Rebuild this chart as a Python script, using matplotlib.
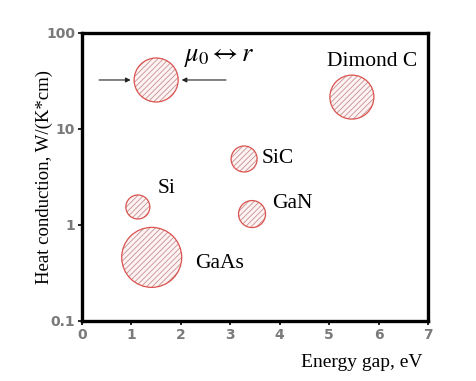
import matplotlib

matplotlib.use("Agg")

import matplotlib.pyplot as plt

# materials: energy gap (eV), heat conduction W/(K*cm), marker radius (px)
materials = ["Si", "GaAs", "SiC", "GaN", "Dimond C"]
energy_gap = [1.13, 1.41, 3.28, 3.44, 5.46]
heat_conduction = [1.54, 0.46, 4.87, 1.30, 21.5]
radius_px = [12, 30, 13, 13.5, 22]

# label anchor (x, y) in data units
label_x = [1.54, 2.29, 3.64, 3.84, 4.96]
label_y = [2.4, 0.40, 4.87, 1.66, 50.0]

# legend circle for mu_0 <-> r
legend_x, legend_y, legend_r = 1.50, 32.4, 22

xticks = [0, 1, 2, 3, 4, 5, 6, 7]
yticks = [0.1, 1, 10, 100]
ytick_labels = ["0.1", "1", "10", "100"]

SERIF = ["Liberation Serif", "DejaVu Serif"]

plt.rcParams["mathtext.fontset"] = "stix"
plt.rcParams["hatch.linewidth"] = 0.6

fig = plt.figure(figsize=(4.76, 3.81), dpi=100)
ax = fig.add_axes([82 / 476, 1 - 321 / 381, 346 / 476, 288 / 381])
ax.set_yscale("log")
ax.set_xlim(0, 7)
ax.set_ylim(0.1, 100)


def _size(r):
    return (2 * r * 0.72) ** 2


xs = energy_gap + [legend_x]
ys = heat_conduction + [legend_y]
sizes = [_size(r) for r in radius_px + [legend_r]]
ax.scatter(xs, ys, s=sizes, facecolor="#fdf3f3", edgecolor="#c89090", linewidth=0, hatch="//////", zorder=2)
ax.scatter(xs, ys, s=sizes, facecolor="none", edgecolor="#d9534f", linewidth=0.9, zorder=3)

for name, tx, ty in zip(materials, label_x, label_y):
    ax.text(tx, ty, name, fontfamily=SERIF, fontsize=15.5, va="center", ha="left")

ax.text(2.06, 58, r"$\mu_0 \leftrightarrow r$", fontsize=19, va="center", ha="left")
ax.annotate("", xy=(1.04, legend_y), xytext=(0.29, legend_y),
            arrowprops=dict(arrowstyle="-|>", lw=0.8, color="#222222", mutation_scale=7))
ax.annotate("", xy=(1.96, legend_y), xytext=(2.97, legend_y),
            arrowprops=dict(arrowstyle="-|>", lw=0.8, color="#222222", mutation_scale=7))

for spine in ax.spines.values():
    spine.set_linewidth(2.4)

ax.set_xticks(xticks)
ax.set_yticks(yticks)
ax.set_yticklabels(ytick_labels)
ax.minorticks_off()
ax.tick_params(axis="both", length=3, width=1.2, pad=2, labelsize=10, labelcolor="#7a7a7a")
for lbl in ax.get_xticklabels() + ax.get_yticklabels():
    lbl.set_fontweight("bold")

ax.set_ylabel("Heat conduction, W/(K*cm)", fontfamily=SERIF, fontsize=13.5)
ax.yaxis.set_label_coords(-0.085, 0.5)
ax.set_xlabel("Energy gap, eV", fontfamily=SERIF, fontsize=14)
ax.xaxis.set_label_coords(0.985, -0.115)
ax.xaxis.label.set_ha("right")

fig.savefig("out.png", dpi=100)
